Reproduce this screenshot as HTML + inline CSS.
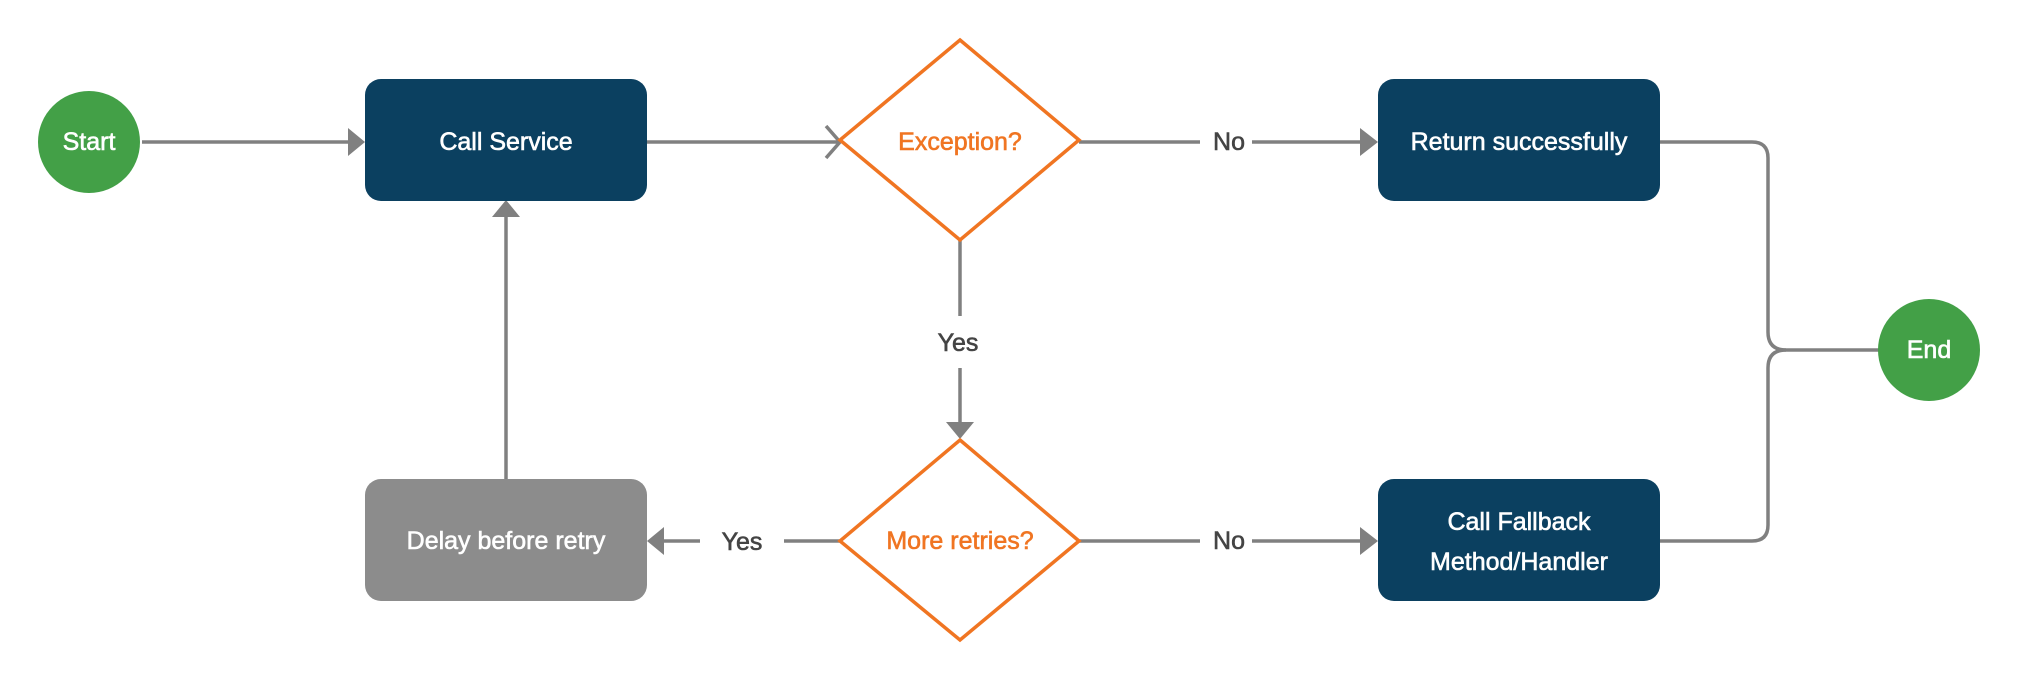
<!DOCTYPE html>
<html><head><meta charset="utf-8"><style>
html,body{margin:0;padding:0;background:#fff;}
</style></head><body>
<svg width="2020" height="680" viewBox="0 0 2020 680" xmlns="http://www.w3.org/2000/svg" font-family="Liberation Sans, sans-serif">
<g stroke="#808080" stroke-width="3.5" fill="none">
<line x1="142" y1="142" x2="350" y2="142"/>
<line x1="647" y1="142" x2="838" y2="142"/>
<polyline points="826,126 840,142 826,158"/>
<line x1="1079" y1="142" x2="1200" y2="142"/>
<line x1="1252" y1="142" x2="1362" y2="142"/>
<line x1="960" y1="240" x2="960" y2="316"/>
<line x1="960" y1="368" x2="960" y2="424"/>
<line x1="840" y1="541" x2="784" y2="541"/>
<line x1="700" y1="541" x2="662" y2="541"/>
<line x1="1079" y1="541" x2="1200" y2="541"/>
<line x1="1252" y1="541" x2="1362" y2="541"/>
<line x1="506" y1="479" x2="506" y2="215"/>
<path d="M1660,142 H1752 Q1768,142 1768,158 V332 Q1768,350 1786,350 H1879"/>
<path d="M1660,541 H1752 Q1768,541 1768,525 V368 Q1768,350 1786,350"/>
</g>
<g fill="#808080">
<polygon points="348,128 365,142 348,156"/>
<polygon points="1360,128 1378,142 1360,156"/>
<polygon points="1360,527 1378,541 1360,555"/>
<polygon points="946,422 974,422 960,439"/>
<polygon points="664,527 647,541 664,555"/>
<polygon points="492,217 520,217 506,200"/>
</g>
<circle cx="89" cy="142" r="51" fill="#43a047"/>
<circle cx="1929" cy="350" r="51" fill="#43a047"/>
<rect x="365" y="79" width="282" height="122" rx="16" fill="#0b4060"/>
<rect x="1378" y="79" width="282" height="122" rx="16" fill="#0b4060"/>
<rect x="1378" y="479" width="282" height="122" rx="16" fill="#0b4060"/>
<rect x="365" y="479" width="282" height="122" rx="16" fill="#8c8c8c"/>
<polygon points="960,40 1079,140 960,240 840,140" fill="#fff" stroke="#f07522" stroke-width="3.5"/>
<polygon points="960,440 1079,541 960,640 840,541" fill="#fff" stroke="#f07522" stroke-width="3.5"/>
<g font-size="25" text-anchor="middle" dominant-baseline="central" stroke-width="0.6">
<text x="89" y="142" fill="#fff" stroke="#fff">Start</text>
<text x="1929" y="350" fill="#fff" stroke="#fff">End</text>
<text x="506" y="142" fill="#fff" stroke="#fff">Call Service</text>
<text x="1519" y="142" fill="#fff" stroke="#fff">Return successfully</text>
<text x="1519" y="522" fill="#fff" stroke="#fff">Call Fallback</text>
<text x="1519" y="562" fill="#fff" stroke="#fff">Method/Handler</text>
<text x="506" y="541" fill="#fff" stroke="#fff">Delay before retry</text>
<text x="960" y="142" fill="#f07522" stroke="#f07522">Exception?</text>
<text x="960" y="541" fill="#f07522" stroke="#f07522">More retries?</text>
<text x="1229" y="142" fill="#444" stroke="#444">No</text>
<text x="1229" y="541" fill="#444" stroke="#444">No</text>
<text x="958" y="343" fill="#444" stroke="#444">Yes</text>
<text x="742" y="542" fill="#444" stroke="#444">Yes</text>
</g>
</svg>
</body></html>
